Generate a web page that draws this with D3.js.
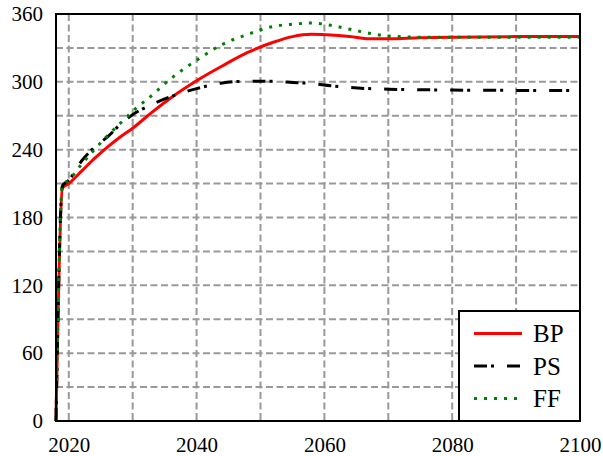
<!DOCTYPE html>
<html>
<head>
<meta charset="utf-8">
<script src="https://cdnjs.cloudflare.com/ajax/libs/d3/7.8.5/d3.min.js"></script>
<style>
    body { margin: 0; background: #fff; }
    .tick-text { font-family: "Liberation Serif", "Times New Roman", serif; font-size: 21px; fill: #000; }
    .legend-text { font-family: "Liberation Serif", "Times New Roman", serif; font-size: 25px; fill: #000; }
</style>
</head>
<body>
<svg id="chart"></svg>
<script>

const years = [2018, 2019, 2020, 2022, 2024, 2026, 2028, 2030, 2033, 2036, 2040, 2044,
    2048, 2052, 2055, 2058, 2061, 2064, 2067, 2070, 2075, 2080, 2090, 2100];

const bp = [0, 206, 210, 221, 232, 242, 251, 259, 273, 286, 301, 314,
    326, 335, 340, 342, 341.5, 340, 338, 338, 339, 339.5, 340, 340];

const ps = [0, 208, 213, 230, 242, 251, 262, 271, 280, 287, 294, 299,
    300.5, 300.5, 299.5, 298.5, 296.5, 295, 294, 293.5, 293, 292.7, 292.4, 292.2];

const ff = [0, 208, 213, 227, 240, 252, 263, 274, 288, 303, 319, 333,
    342, 349, 351, 352, 350, 346.5, 343, 340.5, 339.5, 339.5, 339.5, 339.5];

const seriesNames = ["BP", "PS", "FF"];

const xTicks = [2020, 2040, 2060, 2080, 2100];
const xGrid = [2020, 2030, 2040, 2050, 2060, 2070, 2080, 2090];
const yTicks = [0, 60, 120, 180, 240, 300, 360];
const yGrid = [30, 60, 90, 120, 150, 180, 210, 240, 270, 300, 330];

class LineChart {

    constructor(_config) {
        this.config = {
            parentElement: _config.parentElement,
            containerWidth: _config.containerWidth || 603,
            containerHeight: _config.containerHeight || 456,
        };
        this.config.margin = _config.margin || { top: 14, bottom: 35, right: 23, left: 56 };
        this.initVis();
    }

    initVis() {
        let vis = this;
        vis.svg = d3.select(vis.config.parentElement)
            .attr('width', vis.config.containerWidth)
            .attr('height', vis.config.containerHeight);

        vis.width = vis.config.containerWidth - vis.config.margin.left - vis.config.margin.right;
        vis.height = vis.config.containerHeight - vis.config.margin.top - vis.config.margin.bottom;

        vis.chart = vis.svg.append('g')
            .attr('transform', `translate(${vis.config.margin.left},${vis.config.margin.top})`);

        vis.x = d3.scaleLinear().domain([2018, 2100]).range([0, vis.width]);
        vis.y = d3.scaleLinear().domain([0, 360]).range([vis.height, 0]);

        vis.series = [
            { name: seriesNames[0], values: bp, color: "#ff0000", dash: null, width: 3 },
            { name: seriesNames[1], values: ps, color: "#000000", dash: "13,4,3,13", width: 3 },
            { name: seriesNames[2], values: ff, color: "#008000", dash: "3,7", width: 3 },
        ];

        vis.render();
        vis.legend();
    }

    render() {
        let vis = this;

        // grid
        vis.chart.append('g')
            .selectAll('line')
            .data(xGrid)
            .join('line')
            .attr('x1', d => vis.x(d))
            .attr('x2', d => vis.x(d))
            .attr('y1', 0)
            .attr('y2', vis.height)
            .attr('stroke', '#999')
            .attr('stroke-width', 2)
            .attr('stroke-dasharray', '7,3.5');

        vis.chart.append('g')
            .selectAll('line')
            .data(yGrid)
            .join('line')
            .attr('x1', 0)
            .attr('x2', vis.width)
            .attr('y1', d => vis.y(d))
            .attr('y2', d => vis.y(d))
            .attr('stroke', '#999')
            .attr('stroke-width', 2)
            .attr('stroke-dasharray', '7,3.5');

        // axes, labels only
        let xAxis = vis.chart.append('g')
            .attr('transform', `translate(0,${vis.height})`)
            .call(d3.axisBottom(vis.x).tickValues(xTicks).tickFormat(d3.format('d')).tickSize(0).tickPadding(16));

        let yAxis = vis.chart.append('g')
            .call(d3.axisLeft(vis.y).tickValues(yTicks).tickSize(0).tickPadding(13));

        [xAxis, yAxis].forEach(a => {
            a.select('.domain').remove();
            a.selectAll('text').attr('class', 'tick-text');
        });

        let line = d3.line()
            .x((d, i) => vis.x(years[i]))
            .y(d => vis.y(d))
            .curve(d3.curveMonotoneX);

        vis.chart.append('g')
            .selectAll('path')
            .data(vis.series)
            .join('path')
            .attr('d', d => line(d.values))
            .attr('fill', 'none')
            .attr('stroke', d => d.color)
            .attr('stroke-width', d => d.width)
            .attr('stroke-dasharray', d => d.dash);

        // frame
        vis.chart.append('rect')
            .attr('x', 0)
            .attr('y', 0)
            .attr('width', vis.width)
            .attr('height', vis.height)
            .attr('fill', 'none')
            .attr('stroke', '#000')
            .attr('stroke-width', 2);
    }

    legend() {
        let vis = this;

        let box = vis.chart.append('g')
            .attr('transform', `translate(${vis.width - 121},${vis.height - 110})`);

        box.append('rect')
            .attr('width', 121)
            .attr('height', 110)
            .attr('fill', '#fff')
            .attr('stroke', '#000')
            .attr('stroke-width', 2);

        let item = box.selectAll('g.item')
            .data(vis.series)
            .join('g')
            .attr('class', 'item')
            .attr('transform', (d, i) => `translate(0,${22.5 + i * 32.5})`);

        item.append('line')
            .attr('x1', 15)
            .attr('x2', 63)
            .attr('stroke', d => d.color)
            .attr('stroke-width', d => d.width)
            .attr('stroke-dasharray', d => d.dash);

        item.append('text')
            .attr('x', 74)
            .attr('dy', '0.35em')
            .text(d => d.name)
            .attr('class', 'legend-text');
    }
}

new LineChart({ parentElement: '#chart' });

</script>
</body>
</html>
